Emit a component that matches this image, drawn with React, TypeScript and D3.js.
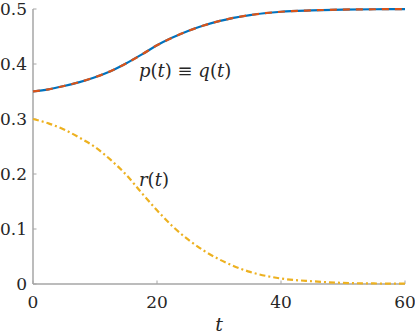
import React, { useEffect, useRef } from 'react';
import * as d3 from 'd3';

// values
const times = [0, 2.5, 5, 7.5, 10, 12.5, 15, 17.5, 20, 22.5, 25, 27.5, 30, 35, 40, 45, 50, 55, 60];
const pValues = [0.35, 0.354, 0.36, 0.367, 0.376, 0.387, 0.401, 0.417, 0.434, 0.448, 0.46, 0.47, 0.478, 0.489, 0.495, 0.4975, 0.499, 0.4995, 0.4998];
const rValues = [0.3, 0.292, 0.281, 0.266, 0.249, 0.226, 0.199, 0.166, 0.134, 0.105, 0.081, 0.061, 0.045, 0.022, 0.01, 0.005, 0.002, 0.001, 0.0005];
const xTicks = [0, 20, 40, 60];
const yTicks = [0, 0.1, 0.2, 0.3, 0.4, 0.5];

const width = 415;
const height = 336;
const margin = { top: 9, right: 10, bottom: 52, left: 33 };
const font = 'DejaVu Serif';

const App = () => {
  const ref = useRef<SVGSVGElement>(null);

  useEffect(() => {
    const svg = d3.select(ref.current);
    svg.selectAll('*').remove();

    const x = d3.scaleLinear().domain([0, 60]).range([margin.left, width - margin.right]);
    const y = d3.scaleLinear().domain([0, 0.5]).range([height - margin.bottom, margin.top]);

    const axisColor = '#a6a6a6';
    const textColor = '#262626';

    const line = (vals: number[]) =>
      d3.line<number>()
        .x((d, i) => x(times[i]))
        .y((d) => y(d))
        .curve(d3.curveMonotoneX)(vals);

    // axes
    svg.append('line')
      .attr('x1', x(0)).attr('x2', x(0))
      .attr('y1', y(0)).attr('y2', y(0.5))
      .attr('stroke', axisColor).attr('stroke-width', 1.5);
    svg.append('line')
      .attr('x1', x(0)).attr('x2', x(60))
      .attr('y1', y(0)).attr('y2', y(0))
      .attr('stroke', axisColor).attr('stroke-width', 1.5);

    yTicks.forEach((t) => {
      svg.append('line')
        .attr('x1', x(0)).attr('x2', x(0) + 3.5)
        .attr('y1', y(t)).attr('y2', y(t))
        .attr('stroke', axisColor).attr('stroke-width', 1);
      svg.append('text')
        .attr('x', x(0) - 6).attr('y', y(t))
        .attr('dy', '0.35em')
        .attr('text-anchor', 'end')
        .attr('font-family', font).attr('font-size', 17)
        .attr('fill', textColor)
        .text(t === 0 ? '0' : t.toFixed(1));
    });

    xTicks.forEach((t) => {
      svg.append('line')
        .attr('x1', x(t)).attr('x2', x(t))
        .attr('y1', y(0)).attr('y2', y(0) - 3.5)
        .attr('stroke', axisColor).attr('stroke-width', 1);
      svg.append('text')
        .attr('x', x(t)).attr('y', 308)
        .attr('text-anchor', 'middle')
        .attr('font-family', font).attr('font-size', 17)
        .attr('fill', textColor)
        .text(t);
    });

    svg.append('text')
      .attr('x', (x(0) + x(60)) / 2).attr('y', 331)
      .attr('text-anchor', 'middle')
      .attr('font-family', font).attr('font-size', 19).attr('font-style', 'italic')
      .attr('fill', textColor)
      .text('t');

    // curves
    svg.append('path')
      .attr('d', line(rValues))
      .attr('fill', 'none')
      .attr('stroke', '#EDB120')
      .attr('stroke-width', 2.2)
      .attr('stroke-dasharray', '6,3,2,3');

    svg.append('path')
      .attr('d', line(pValues))
      .attr('fill', 'none')
      .attr('stroke', '#0072BD')
      .attr('stroke-width', 2.2);

    svg.append('path')
      .attr('d', line(pValues))
      .attr('fill', 'none')
      .attr('stroke', '#D95319')
      .attr('stroke-width', 2.2)
      .attr('stroke-dasharray', '7,6');

    // labels
    const label = svg.append('text')
      .attr('x', 139).attr('y', 77)
      .attr('font-family', font).attr('font-size', 18)
      .attr('fill', textColor);
    label.append('tspan').attr('font-style', 'italic').text('p');
    label.append('tspan').text('(');
    label.append('tspan').attr('font-style', 'italic').text('t');
    label.append('tspan').text(') \u2261 ');
    label.append('tspan').attr('font-style', 'italic').text('q');
    label.append('tspan').text('(');
    label.append('tspan').attr('font-style', 'italic').text('t');
    label.append('tspan').text(')');

    const rLabel = svg.append('text')
      .attr('x', 139).attr('y', 186)
      .attr('font-family', font).attr('font-size', 18)
      .attr('fill', textColor);
    rLabel.append('tspan').attr('font-style', 'italic').text('r');
    rLabel.append('tspan').text('(');
    rLabel.append('tspan').attr('font-style', 'italic').text('t');
    rLabel.append('tspan').text(')');
  }, []);

  return (
    <svg ref={ref} width={width} height={height}
      style={{ position: 'absolute', left: 0, top: 0, background: '#fff' }} />
  );
};

export default App;
